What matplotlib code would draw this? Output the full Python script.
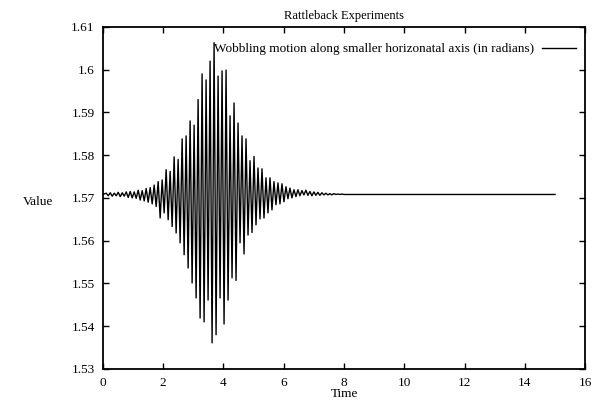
import numpy as np
import matplotlib
matplotlib.use("Agg")
import matplotlib.pyplot as plt

# oscillation: one upper and one lower swing per cycle
period = 0.1325
first_peak = 0.11
baseline = 1.5708
t_end = 15.0

upper_peaks = [
    1.5711, 1.5712, 1.5711, 1.5713, 1.5712, 1.5714, 1.5715, 1.5714, 1.5718, 1.5717,
    1.5722, 1.5724, 1.5730, 1.5738, 1.5742, 1.5766, 1.5762, 1.5796, 1.5790, 1.5838,
    1.5845, 1.5880, 1.5870, 1.5930, 1.5990, 1.5976, 1.6020, 1.6063, 1.5985, 1.5997,
    1.5999, 1.5892, 1.5922, 1.5875, 1.5845, 1.5838, 1.5787, 1.5797, 1.5770, 1.5768,
    1.5747, 1.5747, 1.5738, 1.5735, 1.5733, 1.5726, 1.5723, 1.5719, 1.5719, 1.5717,
    1.5718, 1.5715, 1.5714, 1.5713, 1.5712, 1.5711, 1.5710, 1.5710, 1.5709, 1.5709,
    1.5708,
]
lower_peaks = [
    1.5705, 1.5704, 1.5705, 1.5703, 1.5704, 1.5701, 1.5700, 1.5699, 1.5695, 1.5693,
    1.5690, 1.5686, 1.5680, 1.5653, 1.5665, 1.5649, 1.5633, 1.5618, 1.5595, 1.5567,
    1.5536, 1.5501, 1.5466, 1.5419, 1.5410, 1.5461, 1.5361, 1.5380, 1.5466, 1.5405,
    1.5461, 1.5513, 1.5507, 1.5595, 1.5569, 1.5613, 1.5619, 1.5637, 1.5651, 1.5653,
    1.5665, 1.5672, 1.5684, 1.5686, 1.5691, 1.5698, 1.5700, 1.5703, 1.5705, 1.5707,
    1.5706, 1.5705, 1.5706, 1.5706, 1.5707, 1.5707, 1.5707, 1.5708, 1.5708, 1.5708,
    1.5708,
]

x_ticks = [0, 2, 4, 6, 8, 10, 12, 14, 16]
y_ticks = [1.53, 1.54, 1.55, 1.56, 1.57, 1.58, 1.59, 1.6, 1.61]

# interleave the swings into one time series
n = len(upper_peaks)
t_up = first_peak + period * np.arange(n)
t_lo = t_up + period / 2
t = [0.0]
v = [baseline]
for i in range(n):
    t += [t_up[i], t_lo[i]]
    v += [upper_peaks[i], lower_peaks[i]]
t += [t_lo[-1] + period, t_end]
v += [baseline, baseline]

plt.rcParams['font.family'] = ['Liberation Serif', 'DejaVu Serif']
plt.rcParams['font.size'] = 9.5

fig = plt.figure(figsize=(6.02, 4.01), dpi=100)
ax = fig.add_axes([0.171, 0.080, 0.801, 0.853])
ax.plot(t, v, color='black', lw=1.0,
        label='Wobbling motion along smaller horizonatal axis (in radians)')

ax.set_xlim(0, 16)
ax.set_ylim(1.53, 1.61)
ax.set_xticks(x_ticks)
ax.set_yticks(y_ticks)
ax.set_yticklabels([f"{y:g}" for y in y_ticks])
ax.tick_params(direction='in', top=True, right=True, length=4, width=1, pad=6)
for s in ax.spines.values():
    s.set_linewidth(1.3)

ax.set_title('Rattleback Experiments', fontsize=9, pad=6)
ax.set_xlabel('Time', labelpad=-1)
ax.set_ylabel('Value', rotation=0, labelpad=0)
ax.yaxis.set_label_coords(-0.135, 0.47)

leg = ax.legend(loc='upper right', bbox_to_anchor=(1.0, 0.98), frameon=False,
                markerfirst=False, handlelength=2.6, borderaxespad=0.3,
                handletextpad=0.6)

fig.savefig('out.png', dpi=100)
